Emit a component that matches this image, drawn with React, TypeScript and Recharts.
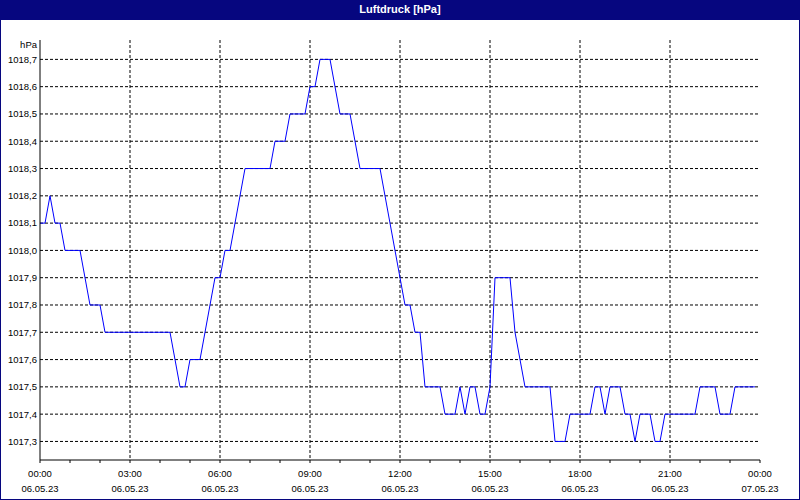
import React from "react";
import {
  LineChart,
  Line,
  XAxis,
  YAxis,
  CartesianGrid,
} from "recharts";

// minutes since 06.05.23 00:00
const minutes = [
  0, 10, 20, 30, 40, 50, 80, 100, 120, 130, 260, 280, 290, 300, 320, 350, 360,
  370, 380, 410, 460, 470, 490, 500, 530, 540, 550, 560, 580, 600, 620, 640,
  680, 730, 740, 750, 760, 770, 800, 810, 830, 840, 850, 860, 870, 880, 890,
  900, 910, 940, 950, 970, 1020, 1030, 1050, 1060, 1100, 1110, 1120, 1130,
  1140, 1160, 1170, 1180, 1190, 1200, 1220, 1230, 1240, 1250, 1310, 1320, 1350,
  1360, 1380, 1390, 1430,
];

const pressure = [
  1018.1, 1018.1, 1018.2, 1018.1, 1018.1, 1018.0, 1018.0, 1017.8, 1017.8,
  1017.7, 1017.7, 1017.5, 1017.5, 1017.6, 1017.6, 1017.9, 1017.9, 1018.0,
  1018.0, 1018.3, 1018.3, 1018.4, 1018.4, 1018.5, 1018.5, 1018.6, 1018.6,
  1018.7, 1018.7, 1018.5, 1018.5, 1018.3, 1018.3, 1017.8, 1017.8, 1017.7,
  1017.7, 1017.5, 1017.5, 1017.4, 1017.4, 1017.5, 1017.4, 1017.5, 1017.5,
  1017.4, 1017.4, 1017.5, 1017.9, 1017.9, 1017.7, 1017.5, 1017.5, 1017.3,
  1017.3, 1017.4, 1017.4, 1017.5, 1017.5, 1017.4, 1017.5, 1017.5, 1017.4,
  1017.4, 1017.3, 1017.4, 1017.4, 1017.3, 1017.3, 1017.4, 1017.4, 1017.5,
  1017.5, 1017.4, 1017.4, 1017.5, 1017.5,
];

const hourTicks = [
  0, 60, 120, 180, 240, 300, 360, 420, 480, 540, 600, 660, 720, 780, 840, 900,
  960, 1020, 1080, 1140, 1200, 1260, 1320, 1380, 1440,
];
const gridTimes = [180, 360, 540, 720, 900, 1080, 1260];
const timeLabels = ["00:00", "03:00", "06:00", "09:00", "12:00", "15:00", "18:00", "21:00", "00:00"];
const dateLabels = [
  "06.05.23", "06.05.23", "06.05.23", "06.05.23", "06.05.23",
  "06.05.23", "06.05.23", "06.05.23", "07.05.23",
];
const yTicks = [
  1017.3, 1017.4, 1017.5, 1017.6, 1017.7, 1017.8, 1017.9, 1018.0, 1018.1,
  1018.2, 1018.3, 1018.4, 1018.5, 1018.6, 1018.7,
];

const data = minutes.map((m, i) => ({ t: m, p: pressure[i] }));

const FONT = "'Liberation Sans', Arial, sans-serif";
const NAVY = "#06067f";

const TimeTick = (props: any) => {
  const { x, y, payload } = props;
  const v = payload.value as number;
  if (v % 180 !== 0) return null;
  const idx = v / 180;
  return (
    <g>
      <text x={x} y={y + 13.5} textAnchor="middle" fill="#000" fontSize={9.5} fontFamily={FONT}>
        {timeLabels[idx]}
      </text>
      <text x={x} y={y + 28.5} textAnchor="middle" fill="#000" fontSize={9.5} fontFamily={FONT}>
        {dateLabels[idx]}
      </text>
    </g>
  );
};

const UnitLabel = (props: any) => {
  const { viewBox } = props;
  return (
    <text
      x={viewBox.x + viewBox.width - 3}
      y={viewBox.y + 8}
      textAnchor="end"
      fill="#000"
      fontSize={9.5}
      fontFamily={FONT}
    >
      hPa
    </text>
  );
};

export default function App() {
  return (
    <div
      style={{
        position: "absolute",
        left: 0,
        top: 0,
        width: 800,
        height: 500,
        background: "#fff",
        fontFamily: FONT,
      }}
    >
      <div
        style={{
          position: "absolute",
          left: 0,
          top: 0,
          width: 800,
          height: 20,
          background: NAVY,
          color: "#fff",
          fontWeight: "bold",
          fontSize: 11,
          lineHeight: "19px",
          textAlign: "center",
        }}
      >
        Luftdruck [hPa]
      </div>
      <div
        style={{
          position: "absolute",
          inset: 0,
          border: `1px solid ${NAVY}`,
          pointerEvents: "none",
        }}
      />
      <div style={{ position: "absolute", left: 0, top: 0 }}>
        <LineChart
          width={800}
          height={500}
          data={data}
          margin={{ top: 40, right: 40, bottom: 0, left: 0 }}
        >
          <CartesianGrid
            stroke="#000"
            strokeDasharray="3 2"
            verticalValues={gridTimes}
            horizontalValues={yTicks}
          />
          <XAxis
            dataKey="t"
            type="number"
            domain={[0, 1440]}
            ticks={hourTicks}
            interval={0}
            height={40}
            tickSize={3}
            tickMargin={0}
            axisLine={{ stroke: "#000" }}
            tickLine={{ stroke: "#000" }}
            tick={<TimeTick />}
          />
          <XAxis
            xAxisId="top"
            orientation="top"
            type="number"
            domain={[0, 1440]}
            height={0}
            tick={false}
            tickLine={false}
            axisLine={{ stroke: "#000" }}
          />
          <YAxis
            type="number"
            domain={[1017.232, 1018.771]}
            ticks={yTicks}
            interval={0}
            width={40}
            tickSize={0}
            tickMargin={3}
            tickLine={false}
            axisLine={{ stroke: "#000" }}
            tick={{ fill: "#000", fontSize: 9.5, fontFamily: FONT }}
            tickFormatter={(v: number) => v.toFixed(1).replace(".", ",")}
            label={<UnitLabel />}
            allowDataOverflow
          />
          <YAxis
            yAxisId="right"
            orientation="right"
            type="number"
            domain={[0, 1]}
            width={0}
            tick={false}
            tickLine={false}
            axisLine={{ stroke: "#000" }}
          />
          <Line
            type="linear"
            dataKey="p"
            stroke="#0000ff"
            strokeWidth={1}
            dot={false}
            activeDot={false}
            isAnimationActive={false}
          />
        </LineChart>
      </div>
    </div>
  );
}
